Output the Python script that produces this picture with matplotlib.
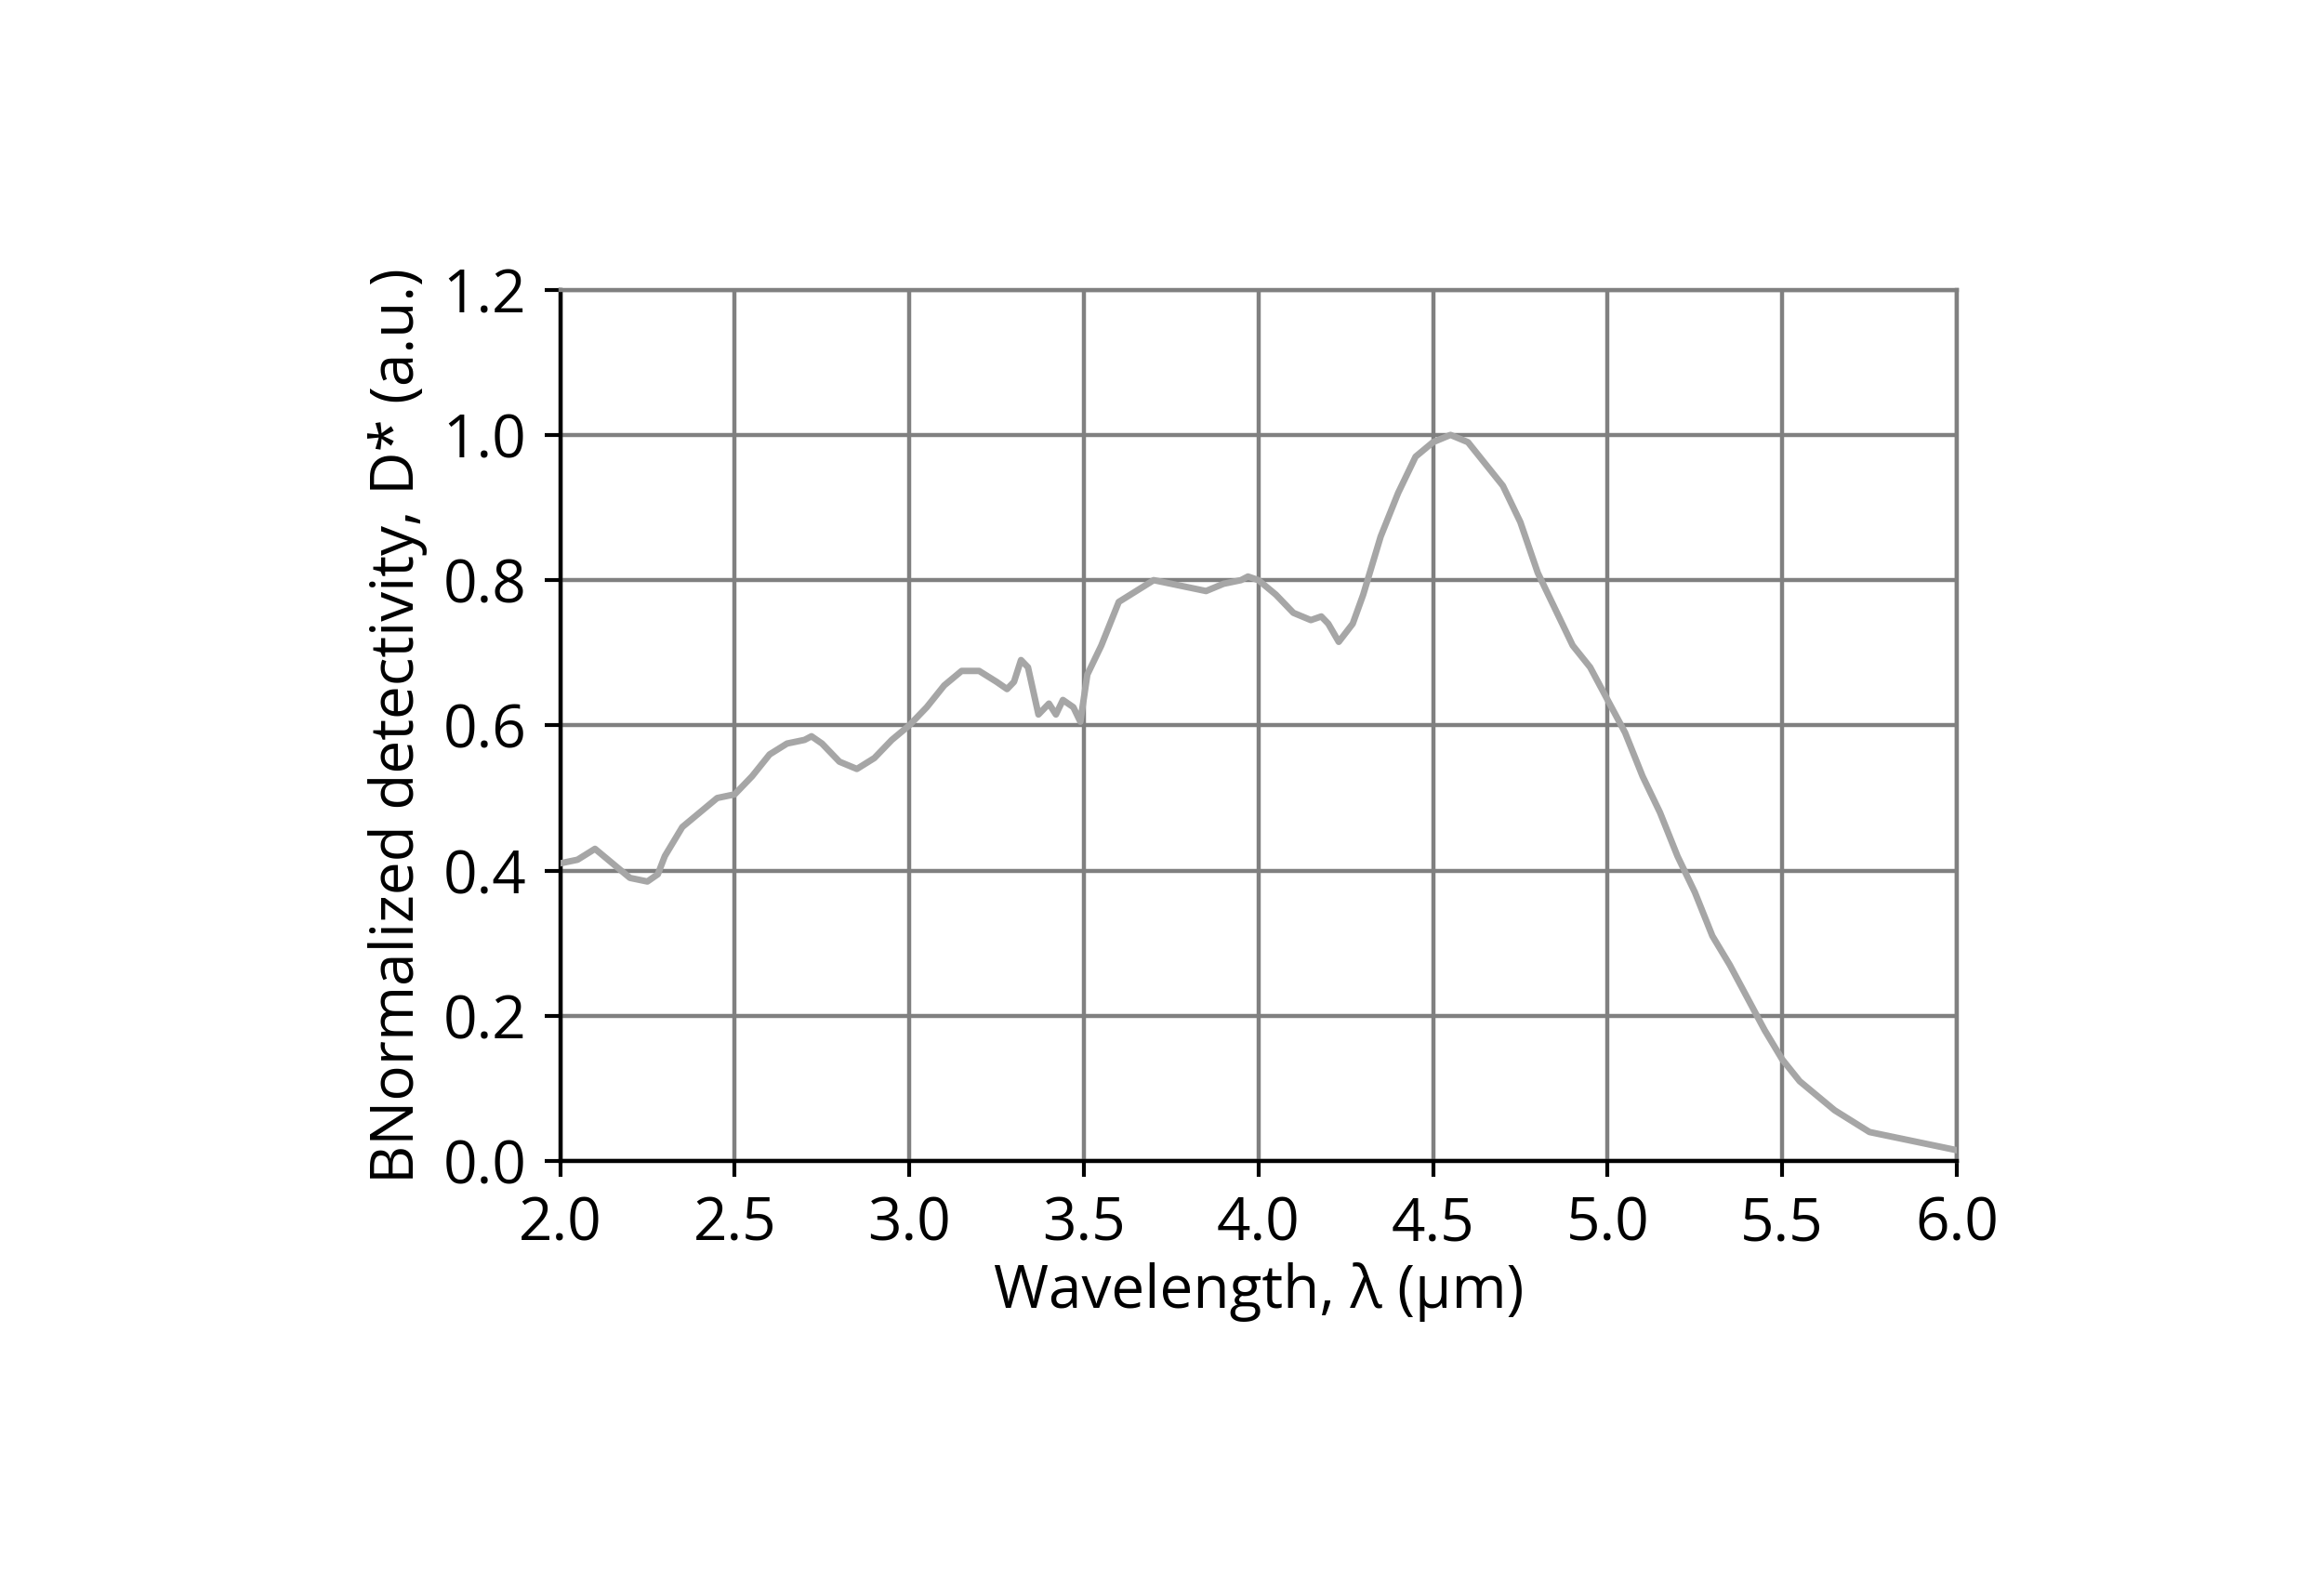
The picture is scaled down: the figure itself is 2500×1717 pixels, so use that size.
import matplotlib.pyplot as plt

# curve
wavelength = [2.0, 2.05, 2.1, 2.15, 2.2, 2.25, 2.28, 2.3, 2.35, 2.4, 2.45, 2.5, 2.55, 2.6, 2.65,
              2.7, 2.72, 2.75, 2.8, 2.85, 2.9, 2.95, 3.0, 3.05, 3.1, 3.15, 3.2, 3.25, 3.28, 3.3,
              3.32, 3.34, 3.37, 3.4, 3.42, 3.44, 3.47, 3.49, 3.51, 3.55, 3.6, 3.65, 3.7, 3.75,
              3.8, 3.85, 3.9, 3.95, 3.97, 4.0, 4.05, 4.1, 4.15, 4.18, 4.2, 4.23, 4.27, 4.3, 4.35,
              4.4, 4.45, 4.5, 4.55, 4.6, 4.65, 4.7, 4.75, 4.8, 4.85, 4.9, 4.95, 5.0, 5.05, 5.1,
              5.15, 5.2, 5.25, 5.3, 5.35, 5.4, 5.45, 5.5, 5.55, 5.6, 5.65, 5.7, 5.75, 5.8, 5.85,
              5.9, 5.95, 6.0]
detectivity = [0.41, 0.415, 0.43, 0.41, 0.39, 0.385, 0.395, 0.42, 0.46, 0.48, 0.50, 0.505, 0.53,
               0.56, 0.575, 0.58, 0.585, 0.575, 0.55, 0.54, 0.555, 0.58, 0.60, 0.625, 0.655, 0.675,
               0.675, 0.66, 0.65, 0.66, 0.69, 0.68, 0.615, 0.63, 0.615, 0.635, 0.625, 0.605, 0.67,
               0.71, 0.77, 0.785, 0.80, 0.795, 0.79, 0.785, 0.795, 0.80, 0.805, 0.80, 0.78, 0.755,
               0.745, 0.75, 0.74, 0.715, 0.74, 0.78, 0.86, 0.92, 0.97, 0.99, 1.0, 0.99, 0.96, 0.93,
               0.88, 0.81, 0.76, 0.71, 0.68, 0.635, 0.59, 0.53, 0.48, 0.42, 0.37, 0.31, 0.27, 0.225,
               0.18, 0.14, 0.11, 0.09, 0.07, 0.055, 0.04, 0.035, 0.03, 0.025, 0.02, 0.015]
x_ticks = [2.0, 2.5, 3.0, 3.5, 4.0, 4.5, 5.0, 5.5, 6.0]
y_ticks = [0.0, 0.2, 0.4, 0.6, 0.8, 1.0, 1.2]

plt.rcParams["font.family"] = ["Open Sans", "DejaVu Sans"]

fig = plt.figure(figsize=(25, 17.17), dpi=100)
ax = fig.add_axes([0.2410, 0.2725, 0.6010, 0.5460])

ax.plot(wavelength, detectivity, color="#a6a6a6", lw=5, zorder=3)

ax.set_xlim(2.0, 6.0)
ax.set_ylim(0.0, 1.2)
ax.set_xticks(x_ticks)
ax.set_yticks(y_ticks)
ax.set_xticklabels([f"{t:.1f}" for t in x_ticks])
ax.set_yticklabels([f"{t:.1f}" for t in y_ticks])
ax.grid(True, color="#808080", lw=3.2)
for side in ["top", "right"]:
    ax.spines[side].set_color("#808080")
for side in ["left", "bottom"]:
    ax.spines[side].set_color("black")
for s in ax.spines.values():
    s.set_linewidth(3.2)
ax.tick_params(labelsize=46, width=3, length=12, direction="out", pad=14, color="black")

ax.set_xlabel("Wavelength, λ (µm)", fontsize=46, labelpad=6)
ax.set_ylabel("BNormalized detectivity, D* (a.u.)", fontsize=46, labelpad=12)

fig.savefig("out.png", dpi=100, facecolor="white")
